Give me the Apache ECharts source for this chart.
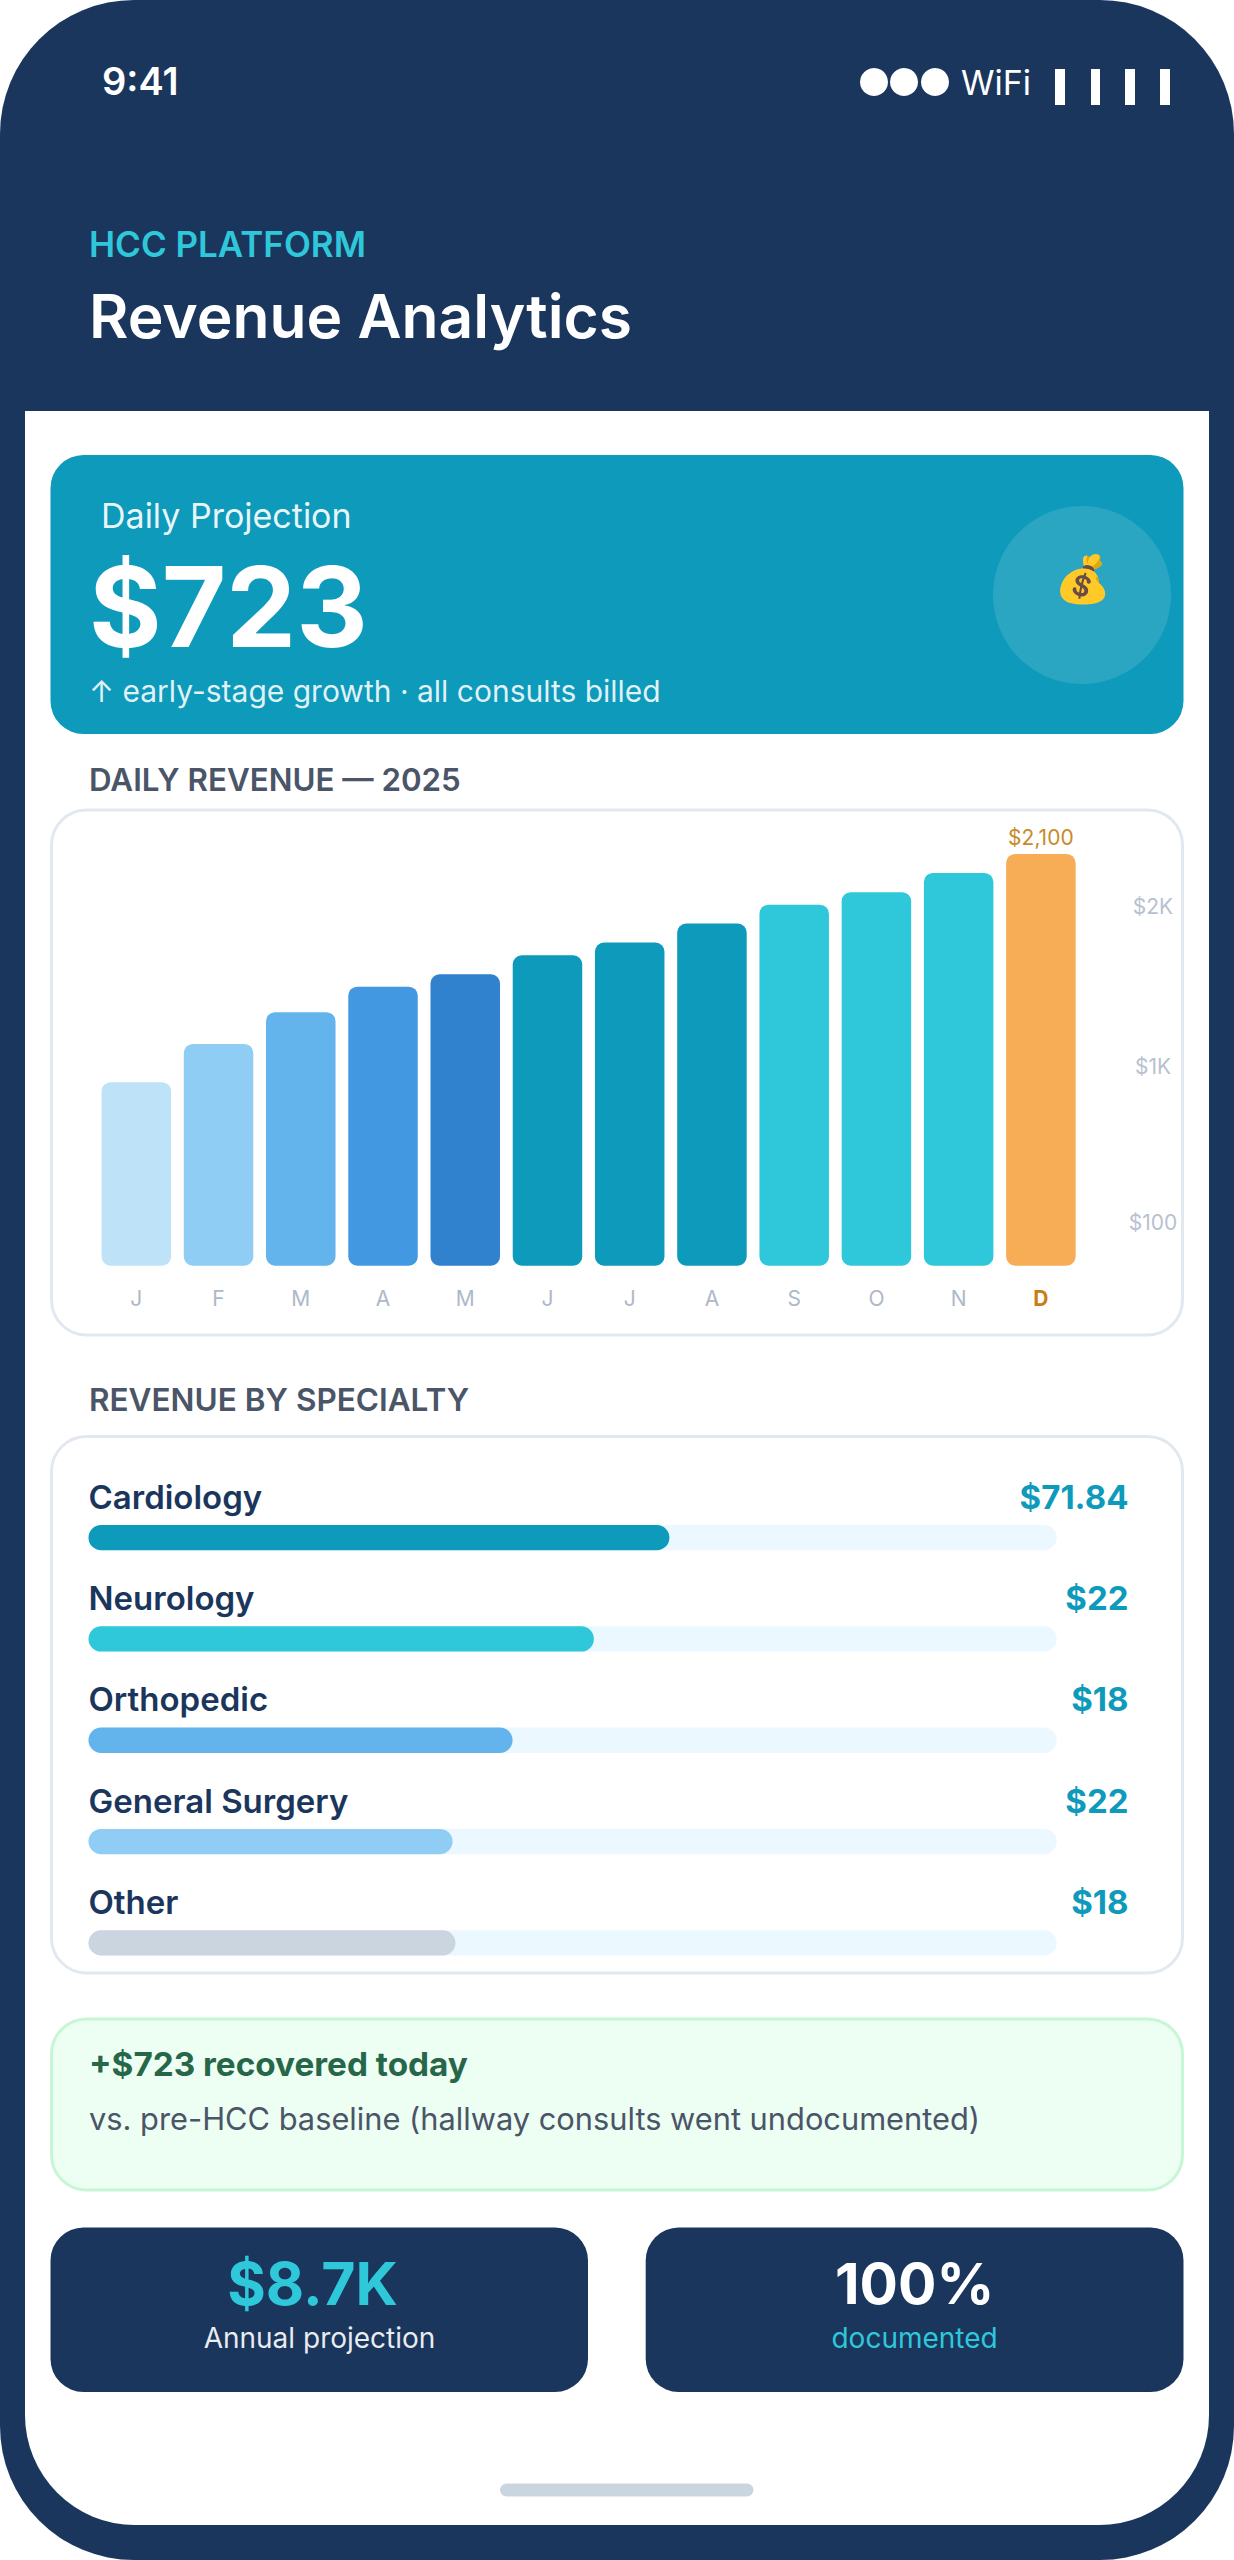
<!DOCTYPE html>
<html><head><meta charset="utf-8">
<style>html,body{margin:0;padding:0;background:#fff}#c{width:1234px;height:2560px}</style>
<script src="https://cdn.jsdelivr.net/npm/echarts@6/dist/echarts.min.js"></script>
</head><body><div id="c"></div>
<script>
const months = ['J','F','M','A','M','J','J','A','S','O','N','D'];
const dailyRevenue = [936,1131,1293,1423,1486,1583,1648,1745,1841,1905,2003,2100];
const monthColors = ['#BEE3F8','#90CDF4','#63B3ED','#4299E1','#3182CE','#0D9ABB','#0D9ABB','#0D9ABB','#2EC8DA','#2EC8DA','#2EC8DA','#F6AD55'];
const revenueTickValues = [218,1018,1834];
const revenueTickLabels = ['$100','$1K','$2K'];
const specialties = ['Cardiology','Neurology','Orthopedic','General Surgery','Other'];
const specialtyShare = [60,52.2,43.8,37.6,37.9];
const specialtyAmounts = ['$71.84','$22','$18','$22','$18'];
const specialtyColors = ['#0D9ABB','#2EC8DA','#63B3ED','#90CDF4','#CBD5E0'];

const FONT = 'Inter, "Noto Sans", sans-serif';
const NAVY='#1B365D', CYAN='#2EC8DA', TEAL='#0D9ABB';

function rect(x,y,x2,y2,r,fill,stroke,lw){
  return {type:'rect',silent:true,z:-1,shape:{x:x,y:y,width:x2-x,height:y2-y,r:r},
    style:{fill:fill,stroke:stroke||null,lineWidth:lw||0}};
}
function circle(cx,cy,r,fill){return {type:'circle',silent:true,z:-1,shape:{cx:cx,cy:cy,r:r},style:{fill:fill}};}
function text(x,base,s,size,weight,fill,align){
  return {type:'text',silent:true,z:3,x:x,y:base-0.36*size,
    style:{text:s,fill:fill,fontFamily:FONT,fontSize:size,fontWeight:weight,
      textAlign:align||'left',textVerticalAlign:'middle',align:align||'left',verticalAlign:'middle'}};
}
const graphics = [
  rect(0,0,1234,2560,134,NAVY),
  rect(25,411,1209,2525,[0,0,110,110],'#FFFFFF'),
  text(102,95,'9:41',38,600,'#FFFFFF'),
  circle(874,82,14,'#FFFFFF'),circle(904,82,14,'#FFFFFF'),circle(935,82,14,'#FFFFFF'),
  text(961,95,'WiFi',34,400,'#FFFFFF'),
  rect(1055,69,1065,105,0,'#FFFFFF'),rect(1091,69,1100,105,0,'#FFFFFF'),
  rect(1125,69,1135,105,0,'#FFFFFF'),rect(1160,69,1170,105,0,'#FFFFFF'),
  text(89,257,'HCC PLATFORM',35,600,CYAN),
  text(89,338,'Revenue Analytics',60.5,600,'#FFFFFF'),
  rect(50.5,455,1183.5,734,33,TEAL),
  text(101,528,'Daily Projection',34,400,'rgba(255,255,255,0.92)'),
  text(89,646,'$723',111,700,'#FFFFFF'),
  text(89,702,'↑ early-stage growth · all consults billed',30,400,'rgba(255,255,255,0.88)'),
  circle(1082,595,89,'rgba(255,255,255,0.12)'),
  {type:'text',silent:true,z:3,x:1082,y:579,style:{text:'💰',fontSize:46,textAlign:'center',textVerticalAlign:'middle',align:'center',verticalAlign:'middle',fill:'#000'}},
  text(89,791,'DAILY REVENUE — 2025',31.3,600,'#4A5568'),
  rect(51.5,810,1182.5,1335,35,'#FFFFFF','#E2E8F0',3),
  text(89,1411,'REVENUE BY SPECIALTY',31.5,600,'#4A5568'),
  rect(51.5,1436.5,1182.5,1973,35,'#FFFFFF','#E2E8F0',3),
  rect(51.5,2019,1182.5,2190,35,'#EDFEF3','#C6F6D5',3),
  text(89,2075.5,'+$723 recovered today',33.3,700,'#276749'),
  text(89,2130,'vs. pre-HCC baseline (hallway consults went undocumented)',30.8,400,'#4A5568'),
  rect(50.5,2227.5,588,2392,33,NAVY),
  rect(645.7,2227.5,1183.5,2392,33,NAVY),
  text(312.5,2304.5,'$8.7K',59,700,CYAN,'center'),
  text(914.6,2304.5,'100%',57,700,'#FFFFFF','center'),
  text(319.5,2348,'Annual projection',28,400,'rgba(255,255,255,0.92)','center'),
  text(914.6,2348,'documented',28,400,CYAN,'center'),
  rect(500,2483.5,753.5,2496.5,6.5,'#CBD5E0')
];

const chart = echarts.init(document.getElementById('c'),null,{renderer:'svg',width:1234,height:2560});
chart.setOption({
  animation:false,
  backgroundColor:'#FFFFFF',
  graphic:{elements:graphics},
  grid:[
    {left:95.2,top:853.9,width:986.8,height:411.8},
    {left:88.5,top:1487,width:968.2,height:506.5}
  ],
  xAxis:[
    {gridIndex:0,type:'category',data:months,axisLine:{show:false},axisTick:{show:false},
     axisLabel:{interval:0,margin:22,fontFamily:FONT,fontSize:21,fontWeight:400,color:'#AEB8C7',
       formatter:(v,i)=>i===months.length-1?'{hi|'+v+'}':v,
       rich:{hi:{color:'#C97D14',fontWeight:700,fontFamily:FONT,fontSize:21}}}},
    {gridIndex:1,type:'value',min:0,max:100,show:false}
  ],
  yAxis:[
    {gridIndex:0,type:'value',position:'right',min:0,max:2100,splitLine:{show:false},
     axisLine:{show:false},axisTick:{show:false},
     axisLabel:{customValues:revenueTickValues,margin:71,align:'center',fontFamily:FONT,fontSize:21,color:'#B8C1CF',
       formatter:v=>revenueTickLabels[revenueTickValues.indexOf(v)]}},
    {gridIndex:1,type:'category',inverse:true,data:specialties,axisLine:{show:false},axisTick:{show:false},
     axisLabel:{inside:true,interval:0,margin:0,align:'left',verticalAlign:'bottom',lineHeight:82,
       fontFamily:FONT,fontSize:33,fontWeight:600,color:NAVY}},
    {gridIndex:1,type:'category',inverse:true,position:'right',data:specialtyAmounts,axisLine:{show:false},axisTick:{show:false},
     axisLabel:{interval:0,margin:71.8,align:'right',verticalAlign:'bottom',lineHeight:82,
       fontFamily:FONT,fontSize:33,fontWeight:700,color:TEAL}}
  ],
  series:[
    {type:'bar',xAxisIndex:0,yAxisIndex:0,barWidth:69.5,
     data:dailyRevenue.map((v,i)=>({value:v,itemStyle:{color:monthColors[i],borderRadius:9},
       label:{show:i===dailyRevenue.length-1}})),
     label:{position:'top',distance:6,fontFamily:FONT,fontSize:21,color:'#C98A2B',
       formatter:p=>'$'+p.value.toLocaleString('en-US')}},
    {type:'bar',xAxisIndex:1,yAxisIndex:1,barWidth:25.3,showBackground:true,
     backgroundStyle:{color:'#EBF8FF',borderRadius:12.6},
     data:specialtyShare.map((v,i)=>({value:v,itemStyle:{color:specialtyColors[i],borderRadius:12.6}}))}
  ]
});
</script></body></html>
